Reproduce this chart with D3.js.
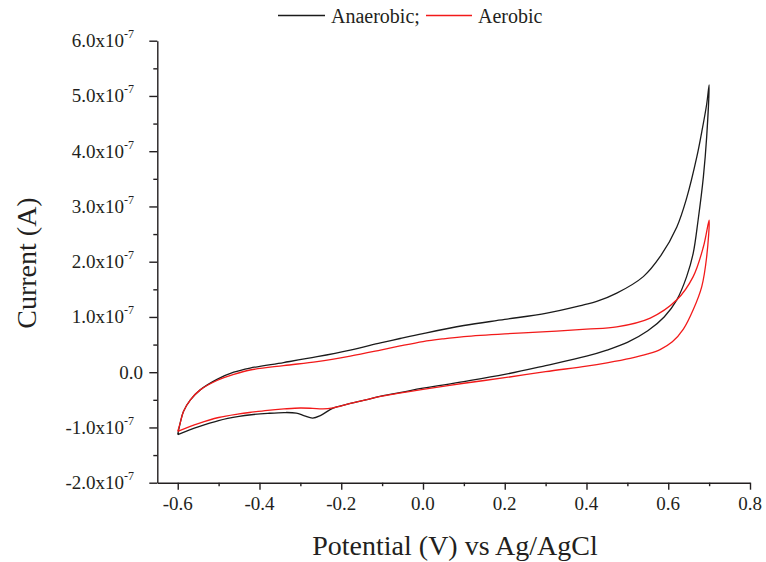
<!DOCTYPE html>
<html>
<head>
<meta charset="utf-8">
<script src="https://cdn.jsdelivr.net/npm/d3@7"></script>
<style>
  html, body { margin: 0; padding: 0; background: #fff; }
  svg { display: block; font-family: "Liberation Serif", "Times New Roman", serif; }
</style>
</head>
<body>
<svg id="chart" width="766" height="562"></svg>
<script>
// Cyclic voltammograms: forward scan -0.6 V -> 0.7 V, then reverse back to -0.6 V.
// Currents are given in units of 1e-7 A.
const CURRENT_UNIT = 1e-7;

const anaerobicPotential = [
  -0.600, -0.550, -0.500, -0.450, -0.420, -0.380, -0.340, -0.310, -0.290, -0.270,
  -0.250, -0.220, -0.180, -0.140, -0.100, -0.050, 0.000, 0.100, 0.200, 0.300,
  0.400, 0.450, 0.500, 0.550, 0.590, 0.621, 0.645, 0.661, 0.673, 0.686, 0.694, 0.700,
  0.694, 0.682, 0.670, 0.645, 0.621, 0.580, 0.539, 0.474, 0.425, 0.393, 0.303,
  0.200, 0.100, 0.000, -0.056, -0.104, -0.178, -0.259, -0.341, -0.423, -0.463,
  -0.504, -0.545, -0.569, -0.586, -0.594, -0.600
];
const anaerobicCurrent = [
  -1.13, -0.99, -0.875, -0.80, -0.77, -0.745, -0.73, -0.74, -0.79, -0.83,
  -0.78, -0.65, -0.57, -0.50, -0.43, -0.36, -0.29, -0.17, -0.04, 0.12,
  0.29, 0.40, 0.54, 0.75, 1.00, 1.31, 1.73, 2.15, 2.75, 3.54, 4.26, 5.20,
  4.85, 4.35, 3.90, 3.15, 2.63, 2.09, 1.73, 1.43, 1.28, 1.22, 1.07,
  0.955, 0.845, 0.70, 0.61, 0.53, 0.40, 0.28, 0.175, 0.075, 0.00,
  -0.13, -0.32, -0.50, -0.71, -0.92, -1.13
];

const aerobicPotential = [
  -0.600, -0.550, -0.500, -0.450, -0.420, -0.380, -0.340, -0.300, -0.270, -0.245,
  -0.220, -0.180, -0.140, -0.100, -0.050, 0.000, 0.100, 0.200, 0.300, 0.400,
  0.450, 0.507, 0.550, 0.580, 0.610, 0.637, 0.661, 0.682, 0.694, 0.700,
  0.686, 0.661, 0.621, 0.556, 0.474, 0.400, 0.303, 0.200, 0.100, 0.050, 0.000,
  -0.056, -0.104, -0.178, -0.259, -0.341, -0.423, -0.463, -0.504, -0.545,
  -0.569, -0.586, -0.595, -0.600
];
const aerobicCurrent = [
  -1.07, -0.93, -0.82, -0.755, -0.725, -0.69, -0.665, -0.648, -0.655, -0.665,
  -0.645, -0.57, -0.50, -0.435, -0.37, -0.31, -0.20, -0.10, 0.01, 0.11,
  0.17, 0.25, 0.33, 0.41, 0.55, 0.78, 1.13, 1.55, 2.09, 2.75,
  2.27, 1.73, 1.31, 0.98, 0.82, 0.78, 0.733, 0.695, 0.645, 0.605, 0.555,
  0.475, 0.40, 0.29, 0.19, 0.12, 0.04, -0.04, -0.15, -0.32,
  -0.50, -0.71, -0.95, -1.07
];

const potentialMajorTicks = [-0.6, -0.4, -0.2, 0.0, 0.2, 0.4, 0.6, 0.8];
const potentialMinorTicks = [-0.5, -0.3, -0.1, 0.1, 0.3, 0.5, 0.7];
const potentialTickLabels = ["-0.6", "-0.4", "-0.2", "0.0", "0.2", "0.4", "0.6", "0.8"];

const currentMajorTicks = [-2, -1, 0, 1, 2, 3, 4, 5, 6];
const currentMinorTicks = [-1.5, -0.5, 0.5, 1.5, 2.5, 3.5, 4.5, 5.5];
const currentTickLabels = ["-2.0x10", "-1.0x10", "0.0", "1.0x10", "2.0x10", "3.0x10", "4.0x10", "5.0x10", "6.0x10"];
const currentTickExponents = ["-7", "-7", "", "-7", "-7", "-7", "-7", "-7", "-7"];

const seriesNames = ["Anaerobic;", "Aerobic"];
const seriesColors = ["#1b1b1b", "#f21a1a"];

const textColor = "#231f20";
const svg = d3.select("#chart");

const x = d3.scaleLinear().domain([-0.65, 0.8]).range([157.3, 750]);
const y = d3.scaleLinear().domain([-2e-7, 6e-7]).range([482.7, 40.7]);

// ---- axes ----
const xAxisG = svg.append("g").attr("transform", `translate(0,${y.range()[0]})`);
xAxisG.call(d3.axisBottom(x).tickValues(potentialMajorTicks).tickSize(7).tickSizeOuter(0).tickFormat(""));
xAxisG.append("g").call(d3.axisBottom(x).tickValues(potentialMinorTicks).tickSize(3.5).tickSizeOuter(0).tickFormat(""))
  .select(".domain").remove();

const yAxisG = svg.append("g").attr("transform", `translate(${x.range()[0]},0)`);
yAxisG.call(d3.axisLeft(y).tickValues(currentMajorTicks.map(v => v * CURRENT_UNIT)).tickSize(8).tickSizeOuter(0).tickFormat(""));
yAxisG.append("g").call(d3.axisLeft(y).tickValues(currentMinorTicks.map(v => v * CURRENT_UNIT)).tickSize(4).tickSizeOuter(0).tickFormat(""))
  .select(".domain").remove();

svg.selectAll(".domain, .tick line")
  .attr("stroke", "#231f20")
  .attr("stroke-width", 1.4);

// x tick labels
svg.append("g").selectAll("text")
  .data(potentialMajorTicks)
  .join("text")
  .attr("x", d => x(d))
  .attr("y", y.range()[0] + 27)
  .attr("text-anchor", "middle")
  .attr("font-size", 19)
  .attr("fill", textColor)
  .text((d, i) => potentialTickLabels[i]);

// y tick labels with superscript exponent
const yLabels = svg.append("g").selectAll("text")
  .data(currentMajorTicks)
  .join("text")
  .attr("x", (d, i) => currentTickExponents[i] ? 134 : 143)
  .attr("y", d => y(d * CURRENT_UNIT) + 6.5)
  .attr("text-anchor", "end")
  .attr("font-size", 19)
  .attr("fill", textColor);
yLabels.append("tspan").text((d, i) => currentTickLabels[i]);
yLabels.filter((d, i) => currentTickExponents[i] !== "")
  .append("tspan")
  .attr("font-size", 12)
  .attr("dy", -9)
  .text(d => currentTickExponents[currentMajorTicks.indexOf(d)]);

// axis titles
svg.append("text")
  .attr("transform", "translate(36,263) rotate(-90)")
  .attr("text-anchor", "middle")
  .attr("font-size", 28)
  .attr("fill", textColor)
  .text("Current (A)");

svg.append("text")
  .attr("x", 455)
  .attr("y", 555)
  .attr("text-anchor", "middle")
  .attr("font-size", 28)
  .attr("fill", textColor)
  .text("Potential (V) vs Ag/AgCl");

// ---- curves ----
const line = d3.line()
  .x(d => x(d[0]))
  .y(d => y(d[1] * CURRENT_UNIT))
  .curve(d3.curveCatmullRom.alpha(0.5));

const series = [
  { potential: anaerobicPotential, current: anaerobicCurrent, color: seriesColors[0] },
  { potential: aerobicPotential, current: aerobicCurrent, color: seriesColors[1] }
];

svg.append("g").selectAll("path")
  .data(series)
  .join("path")
  .attr("fill", "none")
  .attr("stroke", d => d.color)
  .attr("stroke-width", 1.3)
  .attr("stroke-linejoin", "round")
  .attr("d", d => line(d.potential.map((p, i) => [p, d.current[i]])));

// ---- legend ----
const legendItems = [
  { name: seriesNames[0], color: seriesColors[0], x0: 278, x1: 325, tx: 331 },
  { name: seriesNames[1], color: seriesColors[1], x0: 426, x1: 472, tx: 478 }
];
const legend = svg.append("g");
legend.selectAll("line")
  .data(legendItems)
  .join("line")
  .attr("x1", d => d.x0).attr("x2", d => d.x1)
  .attr("y1", 15.5).attr("y2", 15.5)
  .attr("stroke", d => d.color)
  .attr("stroke-width", 1.3);
legend.selectAll("text")
  .data(legendItems)
  .join("text")
  .attr("x", d => d.tx)
  .attr("y", 22.5)
  .attr("font-size", 20)
  .attr("fill", textColor)
  .text(d => d.name);
</script>
</body>
</html>
